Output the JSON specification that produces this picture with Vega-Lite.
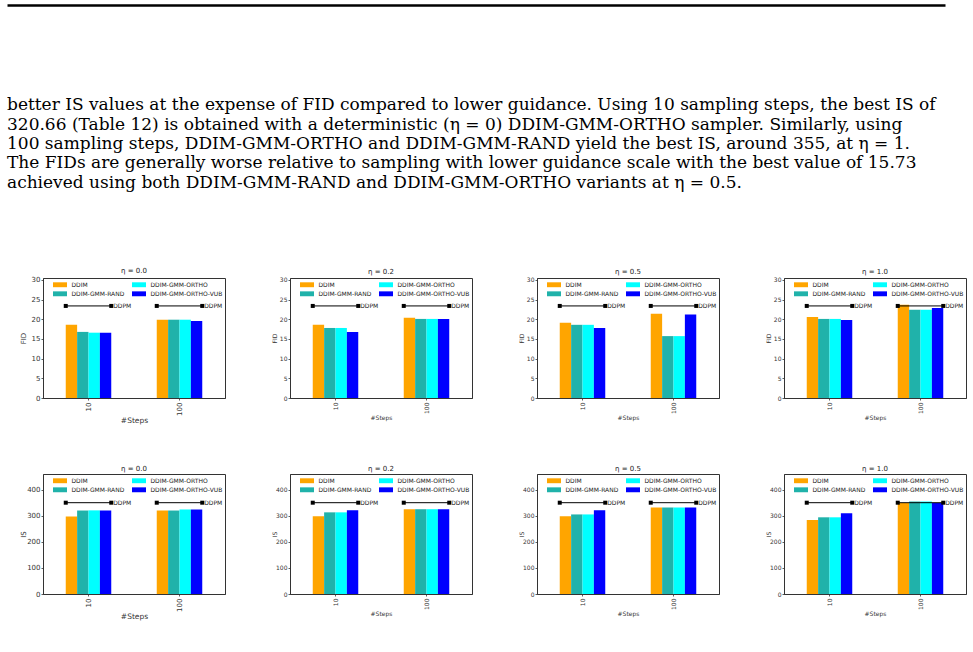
{
"$schema": "https://vega.github.io/schema/vega-lite/v6.json",
"padding": {"left": 7, "top": 5, "right": 0, "bottom": 0},
"background": "white",
"datasets": {
"para": [
{"line": 1, "text": "better IS values at the expense of FID compared to lower guidance. Using 10 sampling steps, the best IS of"},
{"line": 2, "text": "320.66 (Table 12) is obtained with a deterministic (η = 0) DDIM-GMM-ORTHO sampler. Similarly, using"},
{"line": 3, "text": "100 sampling steps, DDIM-GMM-ORTHO and DDIM-GMM-RAND yield the best IS, around 355, at η = 1."},
{"line": 4, "text": "The FIDs are generally worse relative to sampling with lower guidance scale with the best value of 15.73"},
{"line": 5, "text": "achieved using both DDIM-GMM-RAND and DDIM-GMM-ORTHO variants at η = 0.5."}
],
"bars": [
{"metric":"FID","eta":"0.0","step":"10","sampler":"DDIM","value":18.6},
{"metric":"FID","eta":"0.0","step":"10","sampler":"DDIM-GMM-RAND","value":16.8},
{"metric":"FID","eta":"0.0","step":"10","sampler":"DDIM-GMM-ORTHO","value":16.6},
{"metric":"FID","eta":"0.0","step":"10","sampler":"DDIM-GMM-ORTHO-VUB","value":16.6},
{"metric":"FID","eta":"0.0","step":"100","sampler":"DDIM","value":19.9},
{"metric":"FID","eta":"0.0","step":"100","sampler":"DDIM-GMM-RAND","value":19.9},
{"metric":"FID","eta":"0.0","step":"100","sampler":"DDIM-GMM-ORTHO","value":19.9},
{"metric":"FID","eta":"0.0","step":"100","sampler":"DDIM-GMM-ORTHO-VUB","value":19.6},
{"metric":"FID","eta":"0.2","step":"10","sampler":"DDIM","value":18.6},
{"metric":"FID","eta":"0.2","step":"10","sampler":"DDIM-GMM-RAND","value":17.8},
{"metric":"FID","eta":"0.2","step":"10","sampler":"DDIM-GMM-ORTHO","value":17.8},
{"metric":"FID","eta":"0.2","step":"10","sampler":"DDIM-GMM-ORTHO-VUB","value":16.8},
{"metric":"FID","eta":"0.2","step":"100","sampler":"DDIM","value":20.4},
{"metric":"FID","eta":"0.2","step":"100","sampler":"DDIM-GMM-RAND","value":20.1},
{"metric":"FID","eta":"0.2","step":"100","sampler":"DDIM-GMM-ORTHO","value":20.1},
{"metric":"FID","eta":"0.2","step":"100","sampler":"DDIM-GMM-ORTHO-VUB","value":20.1},
{"metric":"FID","eta":"0.5","step":"10","sampler":"DDIM","value":19.1},
{"metric":"FID","eta":"0.5","step":"10","sampler":"DDIM-GMM-RAND","value":18.6},
{"metric":"FID","eta":"0.5","step":"10","sampler":"DDIM-GMM-ORTHO","value":18.6},
{"metric":"FID","eta":"0.5","step":"10","sampler":"DDIM-GMM-ORTHO-VUB","value":17.8},
{"metric":"FID","eta":"0.5","step":"100","sampler":"DDIM","value":21.4},
{"metric":"FID","eta":"0.5","step":"100","sampler":"DDIM-GMM-RAND","value":15.73},
{"metric":"FID","eta":"0.5","step":"100","sampler":"DDIM-GMM-ORTHO","value":15.73},
{"metric":"FID","eta":"0.5","step":"100","sampler":"DDIM-GMM-ORTHO-VUB","value":21.2},
{"metric":"FID","eta":"1.0","step":"10","sampler":"DDIM","value":20.6},
{"metric":"FID","eta":"1.0","step":"10","sampler":"DDIM-GMM-RAND","value":20.1},
{"metric":"FID","eta":"1.0","step":"10","sampler":"DDIM-GMM-ORTHO","value":20.1},
{"metric":"FID","eta":"1.0","step":"10","sampler":"DDIM-GMM-ORTHO-VUB","value":19.8},
{"metric":"FID","eta":"1.0","step":"100","sampler":"DDIM","value":23.7},
{"metric":"FID","eta":"1.0","step":"100","sampler":"DDIM-GMM-RAND","value":22.4},
{"metric":"FID","eta":"1.0","step":"100","sampler":"DDIM-GMM-ORTHO","value":22.4},
{"metric":"FID","eta":"1.0","step":"100","sampler":"DDIM-GMM-ORTHO-VUB","value":22.9},
{"metric":"IS","eta":"0.0","step":"10","sampler":"DDIM","value":297},
{"metric":"IS","eta":"0.0","step":"10","sampler":"DDIM-GMM-RAND","value":320},
{"metric":"IS","eta":"0.0","step":"10","sampler":"DDIM-GMM-ORTHO","value":320.66},
{"metric":"IS","eta":"0.0","step":"10","sampler":"DDIM-GMM-ORTHO-VUB","value":320},
{"metric":"IS","eta":"0.0","step":"100","sampler":"DDIM","value":320},
{"metric":"IS","eta":"0.0","step":"100","sampler":"DDIM-GMM-RAND","value":320},
{"metric":"IS","eta":"0.0","step":"100","sampler":"DDIM-GMM-ORTHO","value":324},
{"metric":"IS","eta":"0.0","step":"100","sampler":"DDIM-GMM-ORTHO-VUB","value":324},
{"metric":"IS","eta":"0.2","step":"10","sampler":"DDIM","value":298},
{"metric":"IS","eta":"0.2","step":"10","sampler":"DDIM-GMM-RAND","value":313},
{"metric":"IS","eta":"0.2","step":"10","sampler":"DDIM-GMM-ORTHO","value":313},
{"metric":"IS","eta":"0.2","step":"10","sampler":"DDIM-GMM-ORTHO-VUB","value":321},
{"metric":"IS","eta":"0.2","step":"100","sampler":"DDIM","value":325},
{"metric":"IS","eta":"0.2","step":"100","sampler":"DDIM-GMM-RAND","value":325},
{"metric":"IS","eta":"0.2","step":"100","sampler":"DDIM-GMM-ORTHO","value":325},
{"metric":"IS","eta":"0.2","step":"100","sampler":"DDIM-GMM-ORTHO-VUB","value":325},
{"metric":"IS","eta":"0.5","step":"10","sampler":"DDIM","value":298},
{"metric":"IS","eta":"0.5","step":"10","sampler":"DDIM-GMM-RAND","value":305},
{"metric":"IS","eta":"0.5","step":"10","sampler":"DDIM-GMM-ORTHO","value":305},
{"metric":"IS","eta":"0.5","step":"10","sampler":"DDIM-GMM-ORTHO-VUB","value":321},
{"metric":"IS","eta":"0.5","step":"100","sampler":"DDIM","value":332},
{"metric":"IS","eta":"0.5","step":"100","sampler":"DDIM-GMM-RAND","value":332},
{"metric":"IS","eta":"0.5","step":"100","sampler":"DDIM-GMM-ORTHO","value":332},
{"metric":"IS","eta":"0.5","step":"100","sampler":"DDIM-GMM-ORTHO-VUB","value":332},
{"metric":"IS","eta":"1.0","step":"10","sampler":"DDIM","value":284},
{"metric":"IS","eta":"1.0","step":"10","sampler":"DDIM-GMM-RAND","value":294},
{"metric":"IS","eta":"1.0","step":"10","sampler":"DDIM-GMM-ORTHO","value":294},
{"metric":"IS","eta":"1.0","step":"10","sampler":"DDIM-GMM-ORTHO-VUB","value":310},
{"metric":"IS","eta":"1.0","step":"100","sampler":"DDIM","value":349},
{"metric":"IS","eta":"1.0","step":"100","sampler":"DDIM-GMM-RAND","value":355},
{"metric":"IS","eta":"1.0","step":"100","sampler":"DDIM-GMM-ORTHO","value":355},
{"metric":"IS","eta":"1.0","step":"100","sampler":"DDIM-GMM-ORTHO-VUB","value":349}
],
"ddpm": [
{"metric":"FID","model":"DDPM","step":"10","end":"start","value":23.4},
{"metric":"FID","model":"DDPM","step":"10","end":"end","value":23.4},
{"metric":"FID","model":"DDPM","step":"100","end":"start","value":23.4},
{"metric":"FID","model":"DDPM","step":"100","end":"end","value":23.4},
{"metric":"IS","model":"DDPM","step":"10","end":"start","value":350},
{"metric":"IS","model":"DDPM","step":"10","end":"end","value":350},
{"metric":"IS","model":"DDPM","step":"100","end":"start","value":350},
{"metric":"IS","model":"DDPM","step":"100","end":"end","value":350}
]
},
"vconcat": [
{
"width": 938, "height": 182.5,
"view": {"stroke": null},
"data": {"name": "para"},
"mark": {"type": "text", "align": "left", "baseline": "alphabetic", "font": "DejaVu Serif", "fontSize": 17, "color": "#000"},
"encoding": {
"x": {"datum": 0, "type": "quantitative", "scale": {"domain": [0, 1]}, "axis": {"orient": "top", "domainColor": "#000", "domainWidth": 2.5, "ticks": false, "labels": false, "title": null, "grid": false}},
"y": {"field": "line", "type": "quantitative", "scale": {"domain": [-4.48, 5], "reverse": true, "nice": false, "zero": false}, "axis": null},
"text": {"field": "text"}
}
},
{
"spacing": 0,
"hconcat": [
{"width": 12, "height": 1, "view": {"stroke": null}, "data": {"values": [{"a": 0}]}, "mark": {"type": "point", "opacity": 0}, "encoding": {}},
{
"columns": 4,
"spacing": {"row": 76, "column": 65},
"bounds": "flush",
"resolve": {"scale": {"color": "independent"}, "legend": {"color": "independent"}},
"concat": [
{"width": 182, "height": 120, "title": "η = 0.0",
"encoding": {
"x": {"field": "step", "type": "nominal", "sort": ["10","100"], "title": "#Steps", "scale": {"type": "band", "paddingInner": 0.5, "paddingOuter": 0.25}, "axis": {"labelFontSize": 7, "titleFontSize": 7.5}},
"y": {"field": "value", "type": "quantitative", "title": "FID", "scale": {"domain": [0, 30.5], "nice": false}, "axis": {"values": [0,5,10,15,20,25,30], "labelFontSize": 7, "titleFontSize": 7, "minExtent": 15, "maxExtent": 15, "titlePadding": 1.5}}
},
"layer": [
{"data": {"name": "bars"}, "transform": [{"filter": "datum.metric == 'FID' && datum.eta == '0.0'"}], "mark": {"type": "bar"},
"encoding": {"xOffset": {"field": "sampler", "type": "nominal", "sort": ["DDIM","DDIM-GMM-RAND","DDIM-GMM-ORTHO","DDIM-GMM-ORTHO-VUB"], "scale": {"paddingInner": 0, "paddingOuter": 0}},
"color": {"field": "sampler", "type": "nominal", "scale": {"domain": ["DDIM","DDIM-GMM-RAND","DDIM-GMM-ORTHO","DDIM-GMM-ORTHO-VUB"], "range": ["#FFA500","#20B2AA","#00FFFF","#0000FF"]}, "legend": {"title": null}}}},
{"data": {"name": "ddpm"}, "transform": [{"filter": "datum.metric == 'FID'"}], "mark": {"type": "line", "color": "#000", "strokeWidth": 1},
"encoding": {"xOffset": {"field": "end", "type": "nominal", "scale": {"type": "point", "padding": 0, "domain": ["start","end"]}}, "detail": {"field": "step"}}},
{"data": {"name": "ddpm"}, "transform": [{"filter": "datum.metric == 'FID'"}], "mark": {"type": "point", "shape": "square", "filled": true, "color": "#000", "size": 16, "opacity": 1},
"encoding": {"xOffset": {"field": "end", "type": "nominal", "scale": {"type": "point", "padding": 0, "domain": ["start","end"]}}}},
{"data": {"name": "ddpm"}, "transform": [{"filter": "datum.metric == 'FID' && datum.end == 'end'"}], "mark": {"type": "text", "align": "left", "baseline": "middle", "dx": 2, "fontSize": 6, "font": "DejaVu Sans", "color": "#222"},
"encoding": {"xOffset": {"field": "end", "type": "nominal", "scale": {"type": "point", "padding": 0, "domain": ["start","end"]}}, "text": {"field": "model"}}}
],
"resolve": {"scale": {"xOffset": "independent"}}
},
{"width": 182, "height": 120, "title": "η = 0.2",
"encoding": {
"x": {"field": "step", "type": "nominal", "sort": ["10","100"], "title": "#Steps", "scale": {"type": "band", "paddingInner": 0.5, "paddingOuter": 0.25}},
"y": {"field": "value", "type": "quantitative", "title": "FID", "scale": {"domain": [0, 30.5], "nice": false}, "axis": {"values": [0,5,10,15,20,25,30]}}
},
"layer": [
{"data": {"name": "bars"}, "transform": [{"filter": "datum.metric == 'FID' && datum.eta == '0.2'"}], "mark": {"type": "bar"},
"encoding": {"xOffset": {"field": "sampler", "type": "nominal", "sort": ["DDIM","DDIM-GMM-RAND","DDIM-GMM-ORTHO","DDIM-GMM-ORTHO-VUB"], "scale": {"paddingInner": 0, "paddingOuter": 0}},
"color": {"field": "sampler", "type": "nominal", "scale": {"domain": ["DDIM","DDIM-GMM-RAND","DDIM-GMM-ORTHO","DDIM-GMM-ORTHO-VUB"], "range": ["#FFA500","#20B2AA","#00FFFF","#0000FF"]}, "legend": {"title": null}}}},
{"data": {"name": "ddpm"}, "transform": [{"filter": "datum.metric == 'FID'"}], "mark": {"type": "line", "color": "#000", "strokeWidth": 1},
"encoding": {"xOffset": {"field": "end", "type": "nominal", "scale": {"type": "point", "padding": 0, "domain": ["start","end"]}}, "detail": {"field": "step"}}},
{"data": {"name": "ddpm"}, "transform": [{"filter": "datum.metric == 'FID'"}], "mark": {"type": "point", "shape": "square", "filled": true, "color": "#000", "size": 16, "opacity": 1},
"encoding": {"xOffset": {"field": "end", "type": "nominal", "scale": {"type": "point", "padding": 0, "domain": ["start","end"]}}}},
{"data": {"name": "ddpm"}, "transform": [{"filter": "datum.metric == 'FID' && datum.end == 'end'"}], "mark": {"type": "text", "align": "left", "baseline": "middle", "dx": 2, "fontSize": 6, "font": "DejaVu Sans", "color": "#222"},
"encoding": {"xOffset": {"field": "end", "type": "nominal", "scale": {"type": "point", "padding": 0, "domain": ["start","end"]}}, "text": {"field": "model"}}}
],
"resolve": {"scale": {"xOffset": "independent"}}
},
{"width": 182, "height": 120, "title": "η = 0.5",
"encoding": {
"x": {"field": "step", "type": "nominal", "sort": ["10","100"], "title": "#Steps", "scale": {"type": "band", "paddingInner": 0.5, "paddingOuter": 0.25}},
"y": {"field": "value", "type": "quantitative", "title": "FID", "scale": {"domain": [0, 30.5], "nice": false}, "axis": {"values": [0,5,10,15,20,25,30]}}
},
"layer": [
{"data": {"name": "bars"}, "transform": [{"filter": "datum.metric == 'FID' && datum.eta == '0.5'"}], "mark": {"type": "bar"},
"encoding": {"xOffset": {"field": "sampler", "type": "nominal", "sort": ["DDIM","DDIM-GMM-RAND","DDIM-GMM-ORTHO","DDIM-GMM-ORTHO-VUB"], "scale": {"paddingInner": 0, "paddingOuter": 0}},
"color": {"field": "sampler", "type": "nominal", "scale": {"domain": ["DDIM","DDIM-GMM-RAND","DDIM-GMM-ORTHO","DDIM-GMM-ORTHO-VUB"], "range": ["#FFA500","#20B2AA","#00FFFF","#0000FF"]}, "legend": {"title": null}}}},
{"data": {"name": "ddpm"}, "transform": [{"filter": "datum.metric == 'FID'"}], "mark": {"type": "line", "color": "#000", "strokeWidth": 1},
"encoding": {"xOffset": {"field": "end", "type": "nominal", "scale": {"type": "point", "padding": 0, "domain": ["start","end"]}}, "detail": {"field": "step"}}},
{"data": {"name": "ddpm"}, "transform": [{"filter": "datum.metric == 'FID'"}], "mark": {"type": "point", "shape": "square", "filled": true, "color": "#000", "size": 16, "opacity": 1},
"encoding": {"xOffset": {"field": "end", "type": "nominal", "scale": {"type": "point", "padding": 0, "domain": ["start","end"]}}}},
{"data": {"name": "ddpm"}, "transform": [{"filter": "datum.metric == 'FID' && datum.end == 'end'"}], "mark": {"type": "text", "align": "left", "baseline": "middle", "dx": 2, "fontSize": 6, "font": "DejaVu Sans", "color": "#222"},
"encoding": {"xOffset": {"field": "end", "type": "nominal", "scale": {"type": "point", "padding": 0, "domain": ["start","end"]}}, "text": {"field": "model"}}}
],
"resolve": {"scale": {"xOffset": "independent"}}
},
{"width": 182, "height": 120, "title": "η = 1.0",
"encoding": {
"x": {"field": "step", "type": "nominal", "sort": ["10","100"], "title": "#Steps", "scale": {"type": "band", "paddingInner": 0.5, "paddingOuter": 0.25}},
"y": {"field": "value", "type": "quantitative", "title": "FID", "scale": {"domain": [0, 30.5], "nice": false}, "axis": {"values": [0,5,10,15,20,25,30]}}
},
"layer": [
{"data": {"name": "bars"}, "transform": [{"filter": "datum.metric == 'FID' && datum.eta == '1.0'"}], "mark": {"type": "bar"},
"encoding": {"xOffset": {"field": "sampler", "type": "nominal", "sort": ["DDIM","DDIM-GMM-RAND","DDIM-GMM-ORTHO","DDIM-GMM-ORTHO-VUB"], "scale": {"paddingInner": 0, "paddingOuter": 0}},
"color": {"field": "sampler", "type": "nominal", "scale": {"domain": ["DDIM","DDIM-GMM-RAND","DDIM-GMM-ORTHO","DDIM-GMM-ORTHO-VUB"], "range": ["#FFA500","#20B2AA","#00FFFF","#0000FF"]}, "legend": {"title": null}}}},
{"data": {"name": "ddpm"}, "transform": [{"filter": "datum.metric == 'FID'"}], "mark": {"type": "line", "color": "#000", "strokeWidth": 1},
"encoding": {"xOffset": {"field": "end", "type": "nominal", "scale": {"type": "point", "padding": 0, "domain": ["start","end"]}}, "detail": {"field": "step"}}},
{"data": {"name": "ddpm"}, "transform": [{"filter": "datum.metric == 'FID'"}], "mark": {"type": "point", "shape": "square", "filled": true, "color": "#000", "size": 16, "opacity": 1},
"encoding": {"xOffset": {"field": "end", "type": "nominal", "scale": {"type": "point", "padding": 0, "domain": ["start","end"]}}}},
{"data": {"name": "ddpm"}, "transform": [{"filter": "datum.metric == 'FID' && datum.end == 'end'"}], "mark": {"type": "text", "align": "left", "baseline": "middle", "dx": 2, "fontSize": 6, "font": "DejaVu Sans", "color": "#222"},
"encoding": {"xOffset": {"field": "end", "type": "nominal", "scale": {"type": "point", "padding": 0, "domain": ["start","end"]}}, "text": {"field": "model"}}}
],
"resolve": {"scale": {"xOffset": "independent"}}
},
{"width": 182, "height": 120, "title": "η = 0.0",
"encoding": {
"x": {"field": "step", "type": "nominal", "sort": ["10","100"], "title": "#Steps", "scale": {"type": "band", "paddingInner": 0.5, "paddingOuter": 0.25}, "axis": {"labelFontSize": 7, "titleFontSize": 7.5}},
"y": {"field": "value", "type": "quantitative", "title": "IS", "scale": {"domain": [0, 460], "nice": false}, "axis": {"values": [0,100,200,300,400], "labelFontSize": 7, "titleFontSize": 7, "minExtent": 15, "maxExtent": 15, "titlePadding": 1.5}}
},
"layer": [
{"data": {"name": "bars"}, "transform": [{"filter": "datum.metric == 'IS' && datum.eta == '0.0'"}], "mark": {"type": "bar"},
"encoding": {"xOffset": {"field": "sampler", "type": "nominal", "sort": ["DDIM","DDIM-GMM-RAND","DDIM-GMM-ORTHO","DDIM-GMM-ORTHO-VUB"], "scale": {"paddingInner": 0, "paddingOuter": 0}},
"color": {"field": "sampler", "type": "nominal", "scale": {"domain": ["DDIM","DDIM-GMM-RAND","DDIM-GMM-ORTHO","DDIM-GMM-ORTHO-VUB"], "range": ["#FFA500","#20B2AA","#00FFFF","#0000FF"]}, "legend": {"title": null}}}},
{"data": {"name": "ddpm"}, "transform": [{"filter": "datum.metric == 'IS'"}], "mark": {"type": "line", "color": "#000", "strokeWidth": 1},
"encoding": {"xOffset": {"field": "end", "type": "nominal", "scale": {"type": "point", "padding": 0, "domain": ["start","end"]}}, "detail": {"field": "step"}}},
{"data": {"name": "ddpm"}, "transform": [{"filter": "datum.metric == 'IS'"}], "mark": {"type": "point", "shape": "square", "filled": true, "color": "#000", "size": 16, "opacity": 1},
"encoding": {"xOffset": {"field": "end", "type": "nominal", "scale": {"type": "point", "padding": 0, "domain": ["start","end"]}}}},
{"data": {"name": "ddpm"}, "transform": [{"filter": "datum.metric == 'IS' && datum.end == 'end'"}], "mark": {"type": "text", "align": "left", "baseline": "middle", "dx": 2, "fontSize": 6, "font": "DejaVu Sans", "color": "#222"},
"encoding": {"xOffset": {"field": "end", "type": "nominal", "scale": {"type": "point", "padding": 0, "domain": ["start","end"]}}, "text": {"field": "model"}}}
],
"resolve": {"scale": {"xOffset": "independent"}}
},
{"width": 182, "height": 120, "title": "η = 0.2",
"encoding": {
"x": {"field": "step", "type": "nominal", "sort": ["10","100"], "title": "#Steps", "scale": {"type": "band", "paddingInner": 0.5, "paddingOuter": 0.25}},
"y": {"field": "value", "type": "quantitative", "title": "IS", "scale": {"domain": [0, 460], "nice": false}, "axis": {"values": [0,100,200,300,400]}}
},
"layer": [
{"data": {"name": "bars"}, "transform": [{"filter": "datum.metric == 'IS' && datum.eta == '0.2'"}], "mark": {"type": "bar"},
"encoding": {"xOffset": {"field": "sampler", "type": "nominal", "sort": ["DDIM","DDIM-GMM-RAND","DDIM-GMM-ORTHO","DDIM-GMM-ORTHO-VUB"], "scale": {"paddingInner": 0, "paddingOuter": 0}},
"color": {"field": "sampler", "type": "nominal", "scale": {"domain": ["DDIM","DDIM-GMM-RAND","DDIM-GMM-ORTHO","DDIM-GMM-ORTHO-VUB"], "range": ["#FFA500","#20B2AA","#00FFFF","#0000FF"]}, "legend": {"title": null}}}},
{"data": {"name": "ddpm"}, "transform": [{"filter": "datum.metric == 'IS'"}], "mark": {"type": "line", "color": "#000", "strokeWidth": 1},
"encoding": {"xOffset": {"field": "end", "type": "nominal", "scale": {"type": "point", "padding": 0, "domain": ["start","end"]}}, "detail": {"field": "step"}}},
{"data": {"name": "ddpm"}, "transform": [{"filter": "datum.metric == 'IS'"}], "mark": {"type": "point", "shape": "square", "filled": true, "color": "#000", "size": 16, "opacity": 1},
"encoding": {"xOffset": {"field": "end", "type": "nominal", "scale": {"type": "point", "padding": 0, "domain": ["start","end"]}}}},
{"data": {"name": "ddpm"}, "transform": [{"filter": "datum.metric == 'IS' && datum.end == 'end'"}], "mark": {"type": "text", "align": "left", "baseline": "middle", "dx": 2, "fontSize": 6, "font": "DejaVu Sans", "color": "#222"},
"encoding": {"xOffset": {"field": "end", "type": "nominal", "scale": {"type": "point", "padding": 0, "domain": ["start","end"]}}, "text": {"field": "model"}}}
],
"resolve": {"scale": {"xOffset": "independent"}}
},
{"width": 182, "height": 120, "title": "η = 0.5",
"encoding": {
"x": {"field": "step", "type": "nominal", "sort": ["10","100"], "title": "#Steps", "scale": {"type": "band", "paddingInner": 0.5, "paddingOuter": 0.25}},
"y": {"field": "value", "type": "quantitative", "title": "IS", "scale": {"domain": [0, 460], "nice": false}, "axis": {"values": [0,100,200,300,400]}}
},
"layer": [
{"data": {"name": "bars"}, "transform": [{"filter": "datum.metric == 'IS' && datum.eta == '0.5'"}], "mark": {"type": "bar"},
"encoding": {"xOffset": {"field": "sampler", "type": "nominal", "sort": ["DDIM","DDIM-GMM-RAND","DDIM-GMM-ORTHO","DDIM-GMM-ORTHO-VUB"], "scale": {"paddingInner": 0, "paddingOuter": 0}},
"color": {"field": "sampler", "type": "nominal", "scale": {"domain": ["DDIM","DDIM-GMM-RAND","DDIM-GMM-ORTHO","DDIM-GMM-ORTHO-VUB"], "range": ["#FFA500","#20B2AA","#00FFFF","#0000FF"]}, "legend": {"title": null}}}},
{"data": {"name": "ddpm"}, "transform": [{"filter": "datum.metric == 'IS'"}], "mark": {"type": "line", "color": "#000", "strokeWidth": 1},
"encoding": {"xOffset": {"field": "end", "type": "nominal", "scale": {"type": "point", "padding": 0, "domain": ["start","end"]}}, "detail": {"field": "step"}}},
{"data": {"name": "ddpm"}, "transform": [{"filter": "datum.metric == 'IS'"}], "mark": {"type": "point", "shape": "square", "filled": true, "color": "#000", "size": 16, "opacity": 1},
"encoding": {"xOffset": {"field": "end", "type": "nominal", "scale": {"type": "point", "padding": 0, "domain": ["start","end"]}}}},
{"data": {"name": "ddpm"}, "transform": [{"filter": "datum.metric == 'IS' && datum.end == 'end'"}], "mark": {"type": "text", "align": "left", "baseline": "middle", "dx": 2, "fontSize": 6, "font": "DejaVu Sans", "color": "#222"},
"encoding": {"xOffset": {"field": "end", "type": "nominal", "scale": {"type": "point", "padding": 0, "domain": ["start","end"]}}, "text": {"field": "model"}}}
],
"resolve": {"scale": {"xOffset": "independent"}}
},
{"width": 182, "height": 120, "title": "η = 1.0",
"encoding": {
"x": {"field": "step", "type": "nominal", "sort": ["10","100"], "title": "#Steps", "scale": {"type": "band", "paddingInner": 0.5, "paddingOuter": 0.25}},
"y": {"field": "value", "type": "quantitative", "title": "IS", "scale": {"domain": [0, 460], "nice": false}, "axis": {"values": [0,100,200,300,400]}}
},
"layer": [
{"data": {"name": "bars"}, "transform": [{"filter": "datum.metric == 'IS' && datum.eta == '1.0'"}], "mark": {"type": "bar"},
"encoding": {"xOffset": {"field": "sampler", "type": "nominal", "sort": ["DDIM","DDIM-GMM-RAND","DDIM-GMM-ORTHO","DDIM-GMM-ORTHO-VUB"], "scale": {"paddingInner": 0, "paddingOuter": 0}},
"color": {"field": "sampler", "type": "nominal", "scale": {"domain": ["DDIM","DDIM-GMM-RAND","DDIM-GMM-ORTHO","DDIM-GMM-ORTHO-VUB"], "range": ["#FFA500","#20B2AA","#00FFFF","#0000FF"]}, "legend": {"title": null}}}},
{"data": {"name": "ddpm"}, "transform": [{"filter": "datum.metric == 'IS'"}], "mark": {"type": "line", "color": "#000", "strokeWidth": 1},
"encoding": {"xOffset": {"field": "end", "type": "nominal", "scale": {"type": "point", "padding": 0, "domain": ["start","end"]}}, "detail": {"field": "step"}}},
{"data": {"name": "ddpm"}, "transform": [{"filter": "datum.metric == 'IS'"}], "mark": {"type": "point", "shape": "square", "filled": true, "color": "#000", "size": 16, "opacity": 1},
"encoding": {"xOffset": {"field": "end", "type": "nominal", "scale": {"type": "point", "padding": 0, "domain": ["start","end"]}}}},
{"data": {"name": "ddpm"}, "transform": [{"filter": "datum.metric == 'IS' && datum.end == 'end'"}], "mark": {"type": "text", "align": "left", "baseline": "middle", "dx": 2, "fontSize": 6, "font": "DejaVu Sans", "color": "#222"},
"encoding": {"xOffset": {"field": "end", "type": "nominal", "scale": {"type": "point", "padding": 0, "domain": ["start","end"]}}, "text": {"field": "model"}}}
],
"resolve": {"scale": {"xOffset": "independent"}}
}
]
}
]
}
],
"spacing": 75,
"config": {
"font": "DejaVu Sans",
"view": {"stroke": "#333", "strokeWidth": 1},
"axis": {"grid": false, "domainColor": "#333", "domainWidth": 1, "tickColor": "#333", "tickSize": 2, "tickWidth": 0.8, "labelColor": "#333", "titleColor": "#333", "labelFont": "DejaVu Sans", "titleFont": "DejaVu Sans", "labelFontSize": 6, "titleFontSize": 6, "titleFontWeight": "normal", "labelPadding": 1},
"axisX": {"labelAngle": -90, "labelPadding": 2, "titlePadding": 1},
"axisY": {"titlePadding": 1, "minExtent": 12, "maxExtent": 12},
"legend": {"orient": "top-left", "columns": 2, "gridAlign": "each", "symbolType": "M-2,-0.7H2V0.7H-2Z", "symbolSize": 49, "symbolStrokeWidth": 0, "labelFont": "DejaVu Sans", "labelFontSize": 6, "labelColor": "#222", "padding": 0, "offset": 3, "rowPadding": 2.3, "columnPadding": 0, "labelOffset": 7.9, "symbolOffset": 10.5},
"title": {"font": "DejaVu Sans", "fontSize": 7, "fontWeight": "normal", "color": "#222", "offset": 2}
}
}
